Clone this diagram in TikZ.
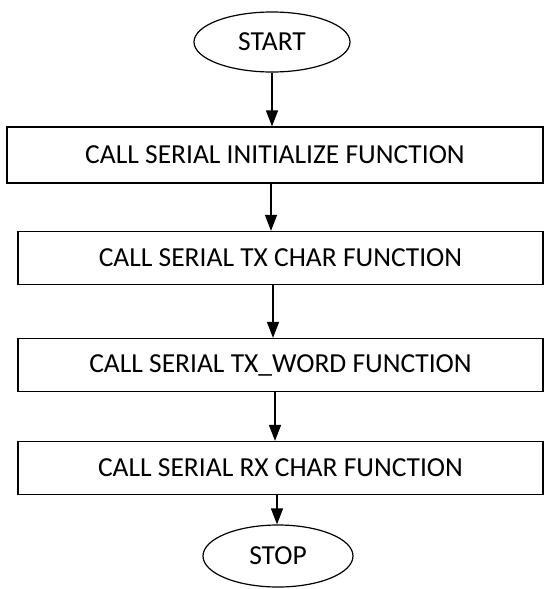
\documentclass[tikz,border=0pt]{standalone}
\usepackage{fontspec}
\setmainfont{Carlito}
\usetikzlibrary{shapes.geometric,arrows.meta}
\begin{document}
\begin{tikzpicture}[x=1pt,y=1pt,
  every node/.style={font=\fontsize{27.5}{33}\selectfont},
  terminal/.style={draw,line width=1.2pt,ellipse,inner sep=0pt},
  stepbox/.style={draw,line width=1.2pt,rectangle,inner sep=0pt},
  flow/.style={draw,line width=1.3pt,-{Triangle[width=12pt,length=16pt]}}]
\useasboundingbox (0,0) rectangle (549,-589);
\node[terminal,minimum width=156pt,minimum height=60pt] (start) at (272,-42) {START};
\node[stepbox,minimum width=536pt,minimum height=56pt] (b1) at (275,-155) {CALL SERIAL INITIALIZE FUNCTION};
\node[stepbox,minimum width=525pt,minimum height=53pt] (b2) at (280.5,-258) {CALL SERIAL TX CHAR FUNCTION};
\node[stepbox,minimum width=525pt,minimum height=53pt] (b3) at (280.5,-365) {CALL SERIAL TX\_WORD FUNCTION};
\node[stepbox,minimum width=525pt,minimum height=53pt] (b4) at (280.5,-468) {CALL SERIAL RX CHAR FUNCTION};
\node[terminal,minimum width=150pt,minimum height=62pt] (stop) at (278,-556) {STOP};
\draw[flow] (start.south) -- (start.south |- b1.north);
\draw[flow] (271,0 |- b1.south) -- (271,0 |- b2.north);
\draw[flow] (273,0 |- b2.south) -- (273,0 |- b3.north);
\draw[flow] (275,0 |- b3.south) -- (275,0 |- b4.north);
\draw[flow] (277,0 |- b4.south) -- (277,0 |- stop.north);
\end{tikzpicture}
\end{document}
